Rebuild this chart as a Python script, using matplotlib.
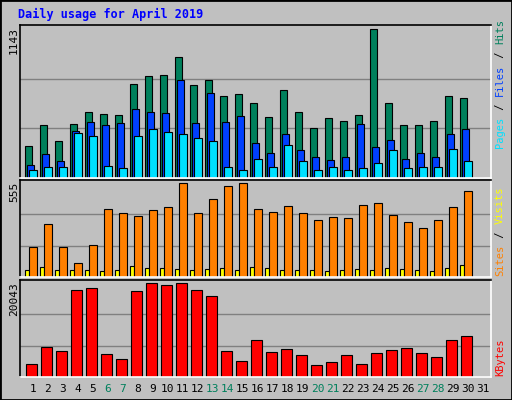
import matplotlib.pyplot as plt
from matplotlib.patches import Rectangle

days = list(range(1, 32))
hits = [243, 406, 282, 414, 507, 491, 484, 724, 786, 794, 934, 716, 755, 631, 646,
        577, 468, 677, 507, 383, 460, 437, 484, 1143, 577, 406, 406, 437, 631, 615, 0]
files = [103, 181, 134, 359, 429, 406, 421, 530, 507, 499, 755, 421, 654, 429, 476,
         266, 189, 336, 212, 158, 142, 158, 414, 235, 290, 150, 189, 165, 336, 375, 0]
pages = [65, 88, 88, 344, 321, 96, 80, 321, 375, 352, 336, 305, 282, 88, 65,
         150, 88, 251, 127, 65, 88, 65, 80, 119, 212, 80, 88, 88, 220, 127, 0]
visits = [42, 60, 42, 42, 42, 36, 42, 66, 54, 54, 48, 42, 48, 54, 42,
          60, 54, 42, 42, 42, 36, 42, 48, 42, 54, 48, 42, 36, 54, 72, 0]
sites = [175, 314, 175, 84, 187, 398, 380, 362, 392, 410, 555, 380, 458, 537, 555,
         398, 386, 416, 380, 338, 356, 350, 422, 434, 368, 326, 290, 338, 410, 507, 0]
kbytes = [2707, 6437, 5559, 18507, 18946, 4901, 3804, 18288, 20043, 19604, 20043, 18507, 17190, 5559, 3365,
          7973, 5340, 5998, 4682, 2487, 3145, 4682, 2707, 5120, 5779, 6218, 5120, 4243, 7973, 8632, 0]
weekends = [6, 7, 13, 14, 20, 21, 27, 28]

BG = '#C0C0C0'
W, H = 512, 400
fig = plt.figure(figsize=(W / 100, H / 100), dpi=100, facecolor=BG)
plt.rcParams['font.family'] = 'DejaVu Sans Mono'

# outer border
fig.patches.append(Rectangle((0, 0), 1, 1, transform=fig.transFigure, fill=False,
                             edgecolor='black', linewidth=2))

def panel(top, bottom):
    ax = fig.add_axes([20 / W, 1 - bottom / H, 471 / W, (bottom - top) / H])
    ax.set_facecolor(BG)
    ax.set_xlim(0, 31.4)
    ax.set_xticks([])
    ax.set_yticks([])
    for s in ax.spines.values():
        s.set_color('white')
        s.set_linewidth(1.2)
    ax.spines['top'].set_color('black')
    ax.spines['left'].set_color('black')
    return ax

def grid(ax, vmax, top_pad):
    ax.set_ylim(0, vmax * top_pad)
    for f in (1 / 3, 2 / 3):
        ax.axhline(vmax * f, color='#808080', linewidth=1, zorder=0)

def bars(ax, vals, off, width, color):
    xs = [d - 1 + 0.333 + off for d in days]
    ax.bar(xs, vals, width=width, align='edge', color=color,
           edgecolor='black', linewidth=0.8, zorder=2)

# top panel
ax1 = panel(25, 178)
grid(ax1, max(hits), 1.03)
bars(ax1, hits, 0.0, 0.5, '#00805C')
bars(ax1, files, 0.13, 0.5, '#0040FF')
bars(ax1, pages, 0.27, 0.5, '#00E0FF')

# middle panel
ax2 = panel(180, 277)
grid(ax2, max(sites), 1.03)
bars(ax2, visits, 0.0, 0.27, '#FFFF00')
bars(ax2, sites, 0.27, 0.5, '#FF8000')

# bottom panel
ax3 = panel(280, 377)
grid(ax3, max(kbytes), 1.03)
bars(ax3, kbytes, 0.07, 0.7, '#FF0000')

for d in days:
    fig.text((20 + (d - 1 + 0.333 + 0.53) * 15) / W, 1 - 389 / H, str(d),
             ha='center', va='center', fontsize=8,
             color='#00805C' if d in weekends else 'black')

fig.text(18 / W, 1 - 14 / H, 'Daily usage for April 2019', color='#0000FF',
         fontsize=8.5, fontweight='bold', va='center')

for y, lab in [(27, str(max(hits))), (182, str(max(sites))), (282, str(max(kbytes)))]:
    fig.text(14 / W, 1 - y / H, lab, rotation=90, ha='center', va='top', fontsize=8)

def side(y_bottom, parts):
    y = y_bottom
    for txt, col in parts:
        fig.text(500 / W, 1 - y / H, txt, rotation=90, ha='center', va='bottom',
                 color=col, fontsize=7.5)
        y -= len(txt) * 6.5

side(148, [('Pages', '#00E0FF'), (' / ', 'black'), ('Files', '#0040FF'),
           (' / ', 'black'), ('Hits', '#00805C')])
side(276, [('Sites', '#FF8000'), (' / ', 'black'), ('Visits', '#FFFF00')])
side(376, [('KBytes', '#FF0000')])

fig.savefig('out.png', dpi=100, facecolor=BG)
